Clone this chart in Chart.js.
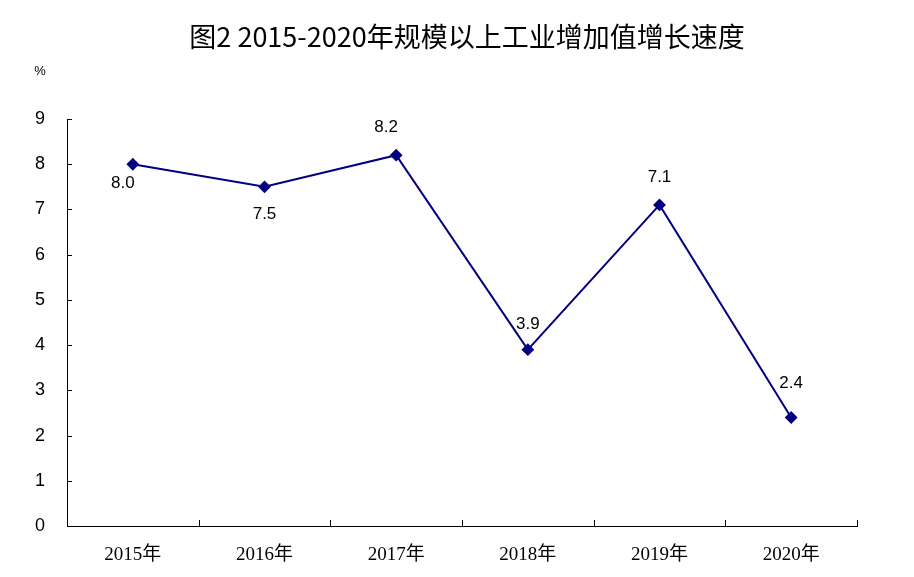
<!doctype html>
<html>

<head>
    <title>图2</title>
    <script src="https://cdn.jsdelivr.net/npm/chart.js"></script>
    <style>
        body { margin: 0; background: #fff; }
        #wrap { width: 914px; height: 577px; }
    </style>
</head>

<body>
    <div id="wrap">
        <canvas id="grafico"></canvas>
    </div>

    <script>
        var anos = ['2015年', '2016年', '2017年', '2018年', '2019年', '2020年'];
        var crescimento = [8.0, 7.5, 8.2, 3.9, 7.1, 2.4];
        var yTicks = [0, 1, 2, 3, 4, 5, 6, 7, 8, 9];
        var titulo = '图2 2015-2020年规模以上工业增加值增长速度';
        var unidade = '%';

        // where each value label sits relative to its point
        var rotuloPos = [
            { dx: -10, dy: 19 },
            { dx: 0, dy: 27 },
            { dx: -10, dy: -28 },
            { dx: 0, dy: -25 },
            { dx: 0, dy: -28 },
            { dx: 0, dy: -34 }
        ];

        var extras = {
            id: 'extras',
            afterDraw: function (chart) {
                var ctx = chart.ctx;
                var x = chart.scales.x;
                var y = chart.scales.y;
                var area = chart.chartArea;
                ctx.save();

                // titulo e unidade
                ctx.fillStyle = '#000';
                ctx.textAlign = 'center';
                ctx.textBaseline = 'middle';
                ctx.font = '27px "Noto Sans CJK SC"';
                ctx.fillText(titulo, 467, 37);
                ctx.font = '13px "Liberation Sans Narrow", "Liberation Sans"';
                ctx.fillText(unidade, 40, 71);

                // marcas para dentro
                ctx.strokeStyle = '#000';
                ctx.lineWidth = 1;
                ctx.beginPath();
                for (var i = 0; i <= anos.length; i++) {
                    var px;
                    if (i == 0) px = area.left;
                    else if (i == anos.length) px = area.right;
                    else px = (x.getPixelForValue(i - 1) + x.getPixelForValue(i)) / 2;
                    px = Math.round(px) + 0.5;
                    ctx.moveTo(px, area.bottom);
                    ctx.lineTo(px, area.bottom - 6);
                }
                yTicks.forEach(function (v) {
                    var py = Math.round(y.getPixelForValue(v)) + 0.5;
                    ctx.moveTo(area.left, py);
                    ctx.lineTo(area.left + 5, py);
                });
                ctx.stroke();

                // rotulos de valor
                ctx.font = '17px "Liberation Sans"';
                ctx.fillStyle = '#000';
                crescimento.forEach(function (v, i) {
                    var px = x.getPixelForValue(i) + rotuloPos[i].dx;
                    var py = y.getPixelForValue(v) + rotuloPos[i].dy;
                    ctx.fillText(v.toFixed(1), px, py);
                });
                ctx.restore();
            }
        };

        var grafico = new Chart(document.getElementById('grafico').getContext('2d'), {
            type: 'line',
            data: {
                labels: anos,
                datasets: [{
                    data: crescimento,
                    borderColor: '#000080',
                    backgroundColor: '#000080',
                    borderWidth: 2,
                    pointStyle: 'rectRot',
                    pointRadius: 5,
                    pointHoverRadius: 5,
                    tension: 0
                }]
            },
            options: {
                responsive: true,
                maintainAspectRatio: false,
                animation: false,
                layout: {
                    padding: { left: 0, top: 119, right: 57, bottom: 0 }
                },
                plugins: {
                    legend: { display: false },
                    tooltip: { enabled: false }
                },
                scales: {
                    x: {
                        offset: true,
                        grid: { display: false },
                        border: { display: true, color: '#000', width: 1 },
                        ticks: {
                            color: '#000',
                            padding: 10,
                            font: { family: '"Liberation Serif", "Noto Sans CJK SC"', size: 19 }
                        },
                        afterFit: function (scale) { scale.height = 51; }
                    },
                    y: {
                        min: 0,
                        max: 9,
                        afterBuildTicks: function (scale) {
                            scale.ticks = yTicks.map(function (v) { return { value: v }; });
                        },
                        grid: { display: false },
                        border: { display: true, color: '#000', width: 1 },
                        ticks: {
                            color: '#000',
                            padding: 14,
                            font: { family: '"Liberation Sans"', size: 18 }
                        },
                        afterFit: function (scale) { scale.width = 67; }
                    }
                }
            },
            plugins: [extras]
        });
    </script>
</body>

</html>
